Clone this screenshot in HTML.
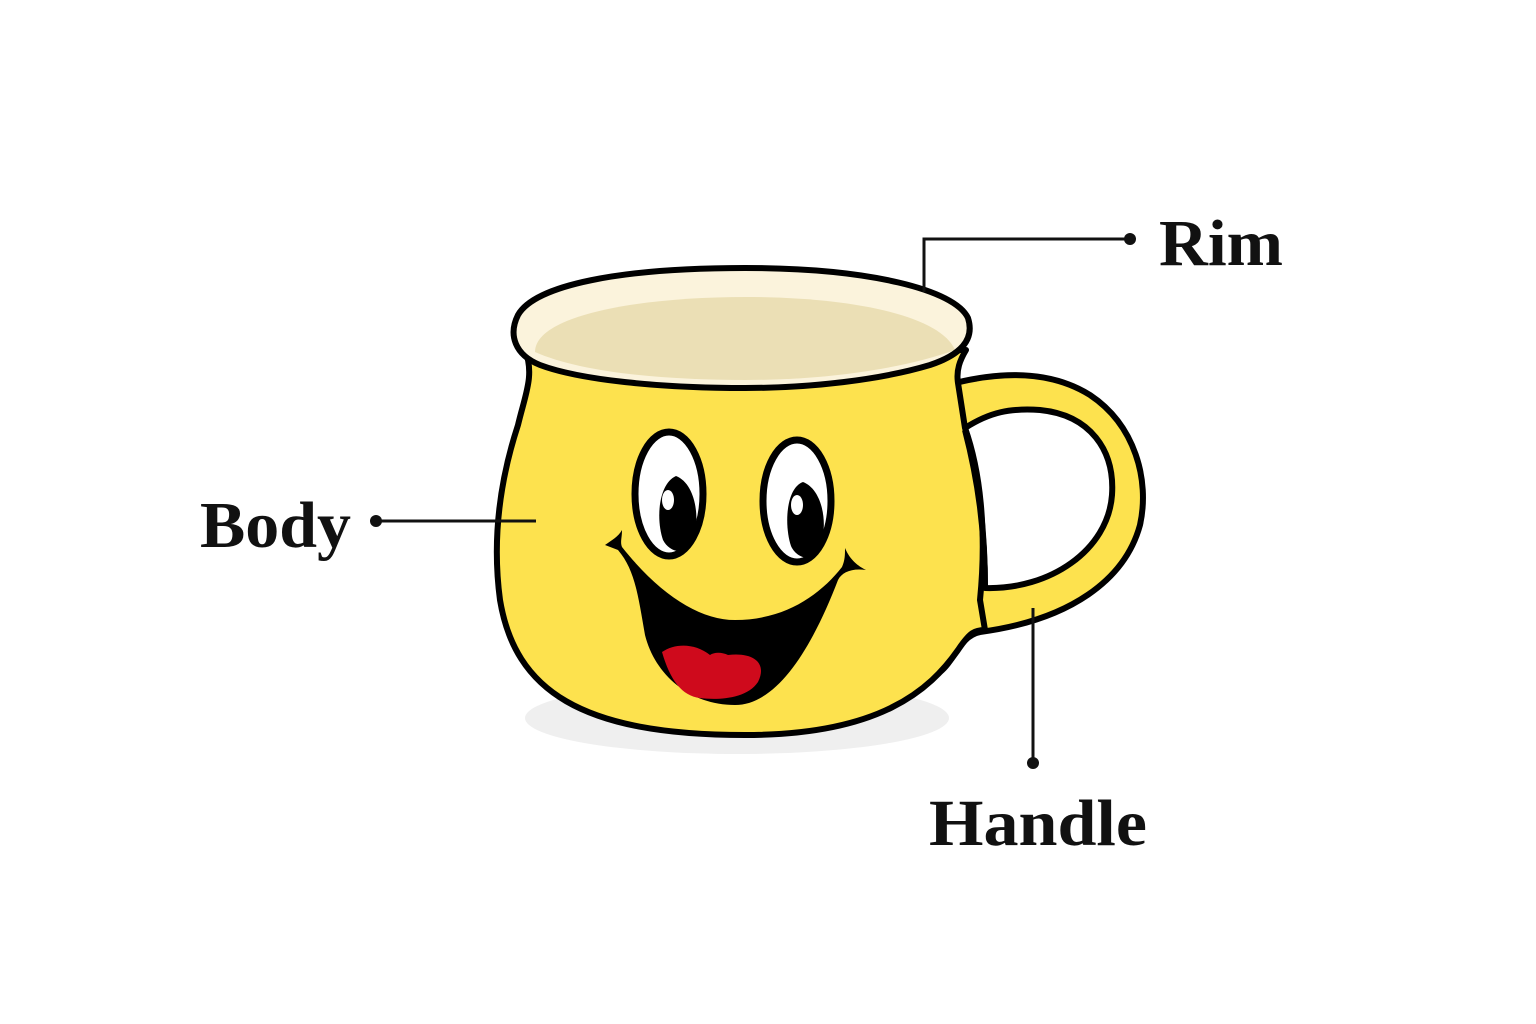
<!DOCTYPE html>
<html><head><style>
html,body{margin:0;padding:0;background:#fff;}
svg{display:block;}
text{font-family:"Liberation Serif",serif;fill:#111;font-weight:bold;}
</style></head><body>
<svg width="1536" height="1024" viewBox="0 0 1536 1024" xmlns="http://www.w3.org/2000/svg">
<rect width="1536" height="1024" fill="#fff"/>
<ellipse cx="737" cy="718" rx="212" ry="36" fill="#efefef"/>
<!-- handle -->
<path d="M955,383 C1000,372 1050,370 1090,395 C1135,425 1150,480 1140,525 C1125,580 1070,620 980,632 C960,636 955,660 940,672 L940,560 L958,383 Z" fill="#fde24e" stroke="#000" stroke-width="6" stroke-linejoin="round"/>
<path d="M965,428 C990,412 1010,408 1040,410 C1090,415 1115,450 1112,495 C1108,550 1050,590 985,588 C985,530 978,470 965,428 Z" fill="#fff" stroke="#000" stroke-width="6" stroke-linejoin="round"/>
<!-- body -->
<path d="M525,350 C535,375 525,395 518,425 C500,480 492,540 500,600 C515,690 580,735 745,735 C880,735 930,690 958,650 C970,632 975,630 985,630 L980,600 C987,530 980,470 965,428 L958,383 C956,370 960,360 966,350 Z" fill="#fde24e" stroke="#000" stroke-width="6" stroke-linejoin="round"/>
<path d="M965,430 C978,480 985,530 985,590" stroke="#000" stroke-width="6" fill="none"/>
<!-- rim -->
<path d="M745,268 C870,268 955,290 968,318 C975,340 960,355 930,365 C880,380 810,388 745,388 C660,388 580,380 540,365 C515,355 508,335 518,315 C535,285 620,268 745,268 Z" fill="#fbf3dc"/>
<path d="M745,297 C850,297 940,315 955,350 C900,370 820,380 745,380 C660,380 580,372 535,352 C535,315 640,297 745,297 Z" fill="#ebdfb5"/>
<path d="M745,268 C870,268 955,290 968,318 C975,340 960,355 930,365 C880,380 810,388 745,388 C660,388 580,380 540,365 C515,355 508,335 518,315 C535,285 620,268 745,268 Z" fill="none" stroke="#000" stroke-width="6"/>
<!-- eyes -->
<ellipse cx="669" cy="494" rx="34" ry="62" fill="#fff" stroke="#000" stroke-width="7"/>
<path d="M676,476 C697,484 702,525 690,548 C680,555 668,550 663,540 C656,520 658,484 676,476 Z" fill="#000"/>
<ellipse cx="668" cy="500" rx="6" ry="10" fill="#fff"/>
<ellipse cx="797" cy="501" rx="34" ry="61" fill="#fff" stroke="#000" stroke-width="7"/>
<path d="M803,482 C824,490 830,530 817,555 C806,562 795,555 791,546 C784,525 786,488 803,482 Z" fill="#000"/>
<ellipse cx="797" cy="505" rx="6" ry="10" fill="#fff"/>
<!-- mouth -->
<path d="M605,545 C612,540 618,537 622,530 C622,538 620,542 622,547 C660,595 700,620 735,620 C785,620 820,595 842,567 C845,560 845,555 845,548 C850,560 858,566 866,570 C852,568 842,572 838,580 C815,640 780,705 735,705 C690,705 655,675 645,635 C638,595 635,570 618,550 Z" fill="#000"/>
<path d="M662,652 C675,643 695,643 710,655 C714,652 722,652 728,655 C752,652 768,662 758,682 C746,700 715,700 700,698 C682,696 670,680 662,652 Z" fill="#cf0a1c"/>
<!-- leaders -->
<g stroke="#111" stroke-width="3" fill="none">
<path d="M924,292 L924,239 L1130,239"/>
<path d="M376,521 L536,521"/>
<path d="M1033,608 L1033,763"/>
</g>
<circle cx="1130" cy="239" r="6" fill="#111"/>
<circle cx="376" cy="521" r="6" fill="#111"/>
<circle cx="1033" cy="763" r="6" fill="#111"/>
<text x="1159" y="265" font-size="66" textLength="124" lengthAdjust="spacingAndGlyphs">Rim</text>
<text x="200" y="547" font-size="66" textLength="151" lengthAdjust="spacingAndGlyphs">Body</text>
<text x="929" y="845" font-size="66" textLength="218" lengthAdjust="spacingAndGlyphs">Handle</text>
</svg>
</body></html>
